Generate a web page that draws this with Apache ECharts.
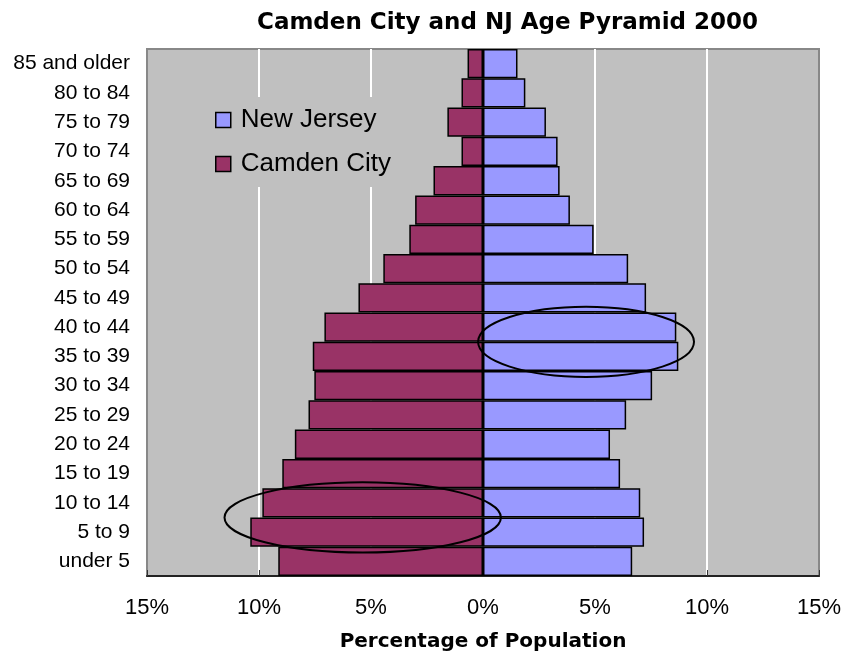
<!DOCTYPE html>
<html>
<head>
<meta charset="utf-8">
<script src="https://cdn.jsdelivr.net/npm/echarts@6/dist/echarts.min.js"></script>
<style>
  html, body { margin: 0; padding: 0; background: #fff; }
  #chart { width: 846px; height: 657px; }
</style>
</head>
<body>
<div id="chart"></div>
<script>
// age groups, bottom to top
const ageGroups = ['under 5', '5 to 9', '10 to 14', '15 to 19', '20 to 24', '25 to 29',
  '30 to 34', '35 to 39', '40 to 44', '45 to 49', '50 to 54', '55 to 59',
  '60 to 64', '65 to 69', '70 to 74', '75 to 79', '80 to 84', '85 and older'];

// percent of population
const camdenPct = [9.14, 10.39, 9.85, 8.96, 8.40, 7.79, 7.53, 7.60, 7.08, 5.56,
  4.45, 3.29, 3.03, 2.21, 0.96, 1.59, 0.96, 0.69];
const njPct = [6.66, 7.19, 7.02, 6.12, 5.67, 6.39, 7.55, 8.72, 8.63, 7.28,
  6.48, 4.94, 3.88, 3.42, 3.33, 2.81, 1.89, 1.54];

const xTicks = [-15, 15, 5]; // min, max, step

const chart = echarts.init(document.getElementById('chart'));

const option = {
  animation: false,
  title: {
    text: 'Camden City and NJ Age Pyramid 2000',
    left: 252,
    top: 7,
    textStyle: { fontFamily: 'DejaVu Sans', fontWeight: 'bold', fontSize: 23, color: '#000' }
  },
  legend: {
    orient: 'vertical',
    left: 203,
    top: 97,
    padding: [10, 12, 10, 12],
    backgroundColor: '#C0C0C0',
    itemWidth: 15,
    itemHeight: 15,
    itemGap: 18,
    icon: 'rect',
    data: ['New Jersey', 'Camden City'],
    itemStyle: { borderColor: '#000', borderWidth: 1.5 },
    textStyle: { fontFamily: 'Liberation Sans', fontSize: 26, color: '#000', padding: [0, 0, 0, 5] }
  },
  grid: {
    left: 147, right: 27, top: 49, bottom: 81,
    outerBoundsMode: 'none',
    show: true,
    backgroundColor: '#C0C0C0',
    borderColor: '#888',
    borderWidth: 2
  },
  xAxis: {
    type: 'value',
    min: xTicks[0],
    max: xTicks[1],
    interval: xTicks[2],
    name: 'Percentage of Population',
    nameLocation: 'middle',
    nameGap: 56,
    nameTextStyle: { fontFamily: 'DejaVu Sans', fontWeight: 'bold', fontSize: 20, color: '#000' },
    axisLine: { show: true, lineStyle: { color: '#222', width: 2 } },
    axisTick: { show: true, inside: true, length: 6, lineStyle: { color: '#333' } },
    axisLabel: {
      margin: 21,
      fontFamily: 'Liberation Sans',
      fontSize: 22,
      color: '#000',
      formatter: v => Math.abs(v) + '%'
    },
    splitLine: {
      show: true,
      lineStyle: {
        color: ['rgba(0,0,0,0)', '#fff', '#fff', '#fff', '#fff', '#fff', 'rgba(0,0,0,0)'],
        width: 2
      }
    }
  },
  yAxis: {
    type: 'category',
    data: ageGroups,
    axisLine: { show: true, lineStyle: { color: '#888', width: 2 } },
    axisTick: { show: false },
    axisLabel: { margin: 17, fontFamily: 'Liberation Sans', fontSize: 21, color: '#000' },
    splitLine: { show: false }
  },
  series: [
    {
      name: 'New Jersey',
      type: 'bar',
      data: njPct,
      barGap: '-100%',
      barCategoryGap: '0%',
      itemStyle: { color: '#9999FF', borderColor: '#000', borderWidth: 1.5 }
    },
    {
      name: 'Camden City',
      type: 'bar',
      data: camdenPct.map(v => -v),
      barGap: '-100%',
      barCategoryGap: '0%',
      itemStyle: { color: '#993366', borderColor: '#000', borderWidth: 1.5 }
    }
  ]
};

chart.setOption(option);

// annotation ellipses around the 35-44 NJ bulge and the 5-14 Camden bulge
function ellipseAt(xVal, idxLo, xHalf, rowsHalf) {
  const a = chart.convertToPixel({ gridIndex: 0 }, [xVal, idxLo]);
  const b = chart.convertToPixel({ gridIndex: 0 }, [xVal, idxLo + 1]);
  const c = chart.convertToPixel({ gridIndex: 0 }, [xVal + xHalf, idxLo]);
  const rowH = Math.abs(a[1] - b[1]);
  return {
    type: 'ellipse',
    z: 100,
    shape: { cx: a[0], cy: (a[1] + b[1]) / 2, rx: Math.abs(c[0] - a[0]), ry: rowH * rowsHalf },
    style: { fill: 'none', stroke: '#000', lineWidth: 2 }
  };
}

chart.setOption({
  graphic: [
    ellipseAt(4.6, 7, 4.82, 1.2),
    ellipseAt(-5.37, 1, 6.17, 1.2)
  ]
});
</script>
</body>
</html>
